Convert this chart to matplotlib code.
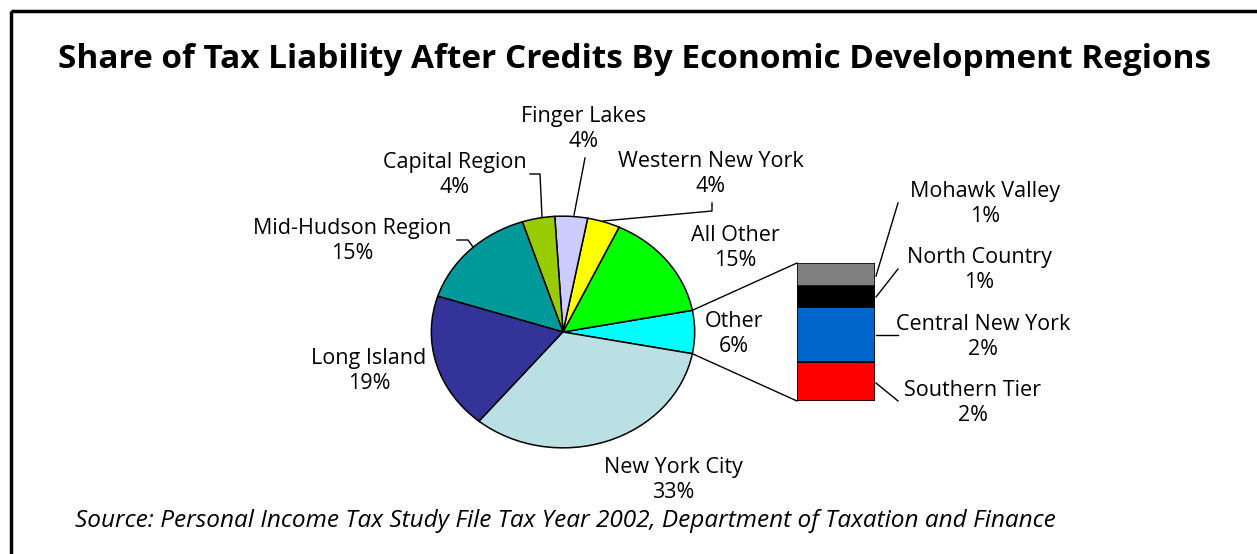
import numpy as np
import matplotlib
matplotlib.use("Agg")
import matplotlib.pyplot as plt
from matplotlib.patches import ConnectionPatch, Rectangle

plt.rcParams['font.family'] = ['Open Sans', 'DejaVu Sans']

# pie slices, counter-clockwise starting from the "Other" slice
pie_labels = ['Other', 'All Other', 'Western New York', 'Finger Lakes',
              'Capital Region', 'Mid-Hudson Region', 'Long Island', 'New York City']
pie_values = [6, 15, 4, 4, 4, 15, 19, 33]
pie_colors = ['#00FFFF', '#00FF00', '#FFFF00', '#CCCCFF',
              '#99CC00', '#009999', '#333399', '#BBE0E3']

# breakdown of "Other", bottom to top
bar_labels = ['Southern Tier', 'Central New York', 'North Country', 'Mohawk Valley']
bar_values = [1.7, 2.4, 0.9, 1.0]
bar_colors = ['#FF0000', '#0066CC', '#000000', '#808080']

W, H = 1257, 554
fig = plt.figure(figsize=(W / 100, H / 100), dpi=100)

# background axes in pixel units for text, frame and leader lines
ax = fig.add_axes([0, 0, 1, 1])
ax.set_xlim(0, W)
ax.set_ylim(H, 0)
ax.axis('off')
ax.add_patch(Rectangle((11, 11), 1400, 700, fill=False, lw=2.5, ec='black'))

ax.text(634, 60, 'Share of Tax Liability After Credits By Economic Development Regions',
        ha='center', va='center', fontsize=24, fontweight='bold')
ax.text(75, 521, 'Source: Personal Income Tax Study File Tax Year 2002, Department of Taxation and Finance',
        ha='left', va='center', fontsize=17.6, style='italic')

total = sum(pie_values)


def pct(v):
    return f"{v / total * 100:.0f}%"


# pie (elliptical, so its axes keeps an auto aspect)
axp = fig.add_axes([430 / W, 1 - 449 / H, 266 / W, 234 / H])
start = -pie_values[0] / total * 180
axp.pie(pie_values, colors=pie_colors, startangle=start, counterclock=True,
        radius=1, wedgeprops=dict(edgecolor='black', linewidth=1.1))
axp.set_aspect('auto')
axp.set_xlim(-1.01, 1.01)
axp.set_ylim(-1.01, 1.01)
axp.axis('off')

# stacked bar for the "Other" breakdown
axb = fig.add_axes([797 / W, 1 - 401 / H, 78 / W, 138 / H])
bottom = 0
for v, c in zip(bar_values, bar_colors):
    axb.bar([0], [v], bottom=bottom, width=1, color=c, edgecolor='black', linewidth=1.1)
    bottom += v
axb.set_xlim(-0.5, 0.5)
axb.set_ylim(0, sum(bar_values))
axb.axis('off')

# lines joining the "Other" slice to the bar
a = np.deg2rad(-start)
for sgn, yb in [(1, sum(bar_values)), (-1, 0)]:
    cp = ConnectionPatch(xyA=(np.cos(a), sgn * np.sin(a)), coordsA=axp.transData,
                         xyB=(-0.5, yb), coordsB=axb.transData, color='black', lw=1)
    fig.add_artist(cp)

# slice labels
lab_pos = {
    'Other': (734, 334),
    'All Other': (735, 248),
    'Western New York': (711, 174),
    'Finger Lakes': (584, 129),
    'Capital Region': (455, 175),
    'Mid-Hudson Region': (352, 241),
    'Long Island': (369, 371),
    'New York City': (673, 480),
}
for name, v in zip(pie_labels, pie_values):
    x, y = lab_pos[name]
    ax.text(x, y, f"{name}\n{pct(v)}", ha='center', va='center',
            fontsize=15.5, linespacing=1.3)

bar_pos = {
    'Mohawk Valley': (985, 204),
    'North Country': (979, 270),
    'Central New York': (983, 337),
    'Southern Tier': (973, 403),
}
for name, v in zip(bar_labels, bar_values):
    x, y = bar_pos[name]
    ax.text(x, y, f"{name}\n{pct(v)}", ha='center', va='center',
            fontsize=15.5, linespacing=1.3)

# leader lines
leaders = [
    [(530, 174), (540, 174), (542, 217)],
    [(585, 158), (574, 215)],
    [(712, 203), (712, 211), (603, 221)],
    [(457, 240), (468, 240), (473, 247)],
    [(898, 203), (876, 276)],
    [(898, 269), (876, 297)],
    [(876, 335), (898, 335)],
    [(876, 383), (898, 401)],
]
for pts in leaders:
    xs, ys = zip(*pts)
    ax.plot(xs, ys, color='black', lw=1)

fig.savefig('out.png', dpi=100)
